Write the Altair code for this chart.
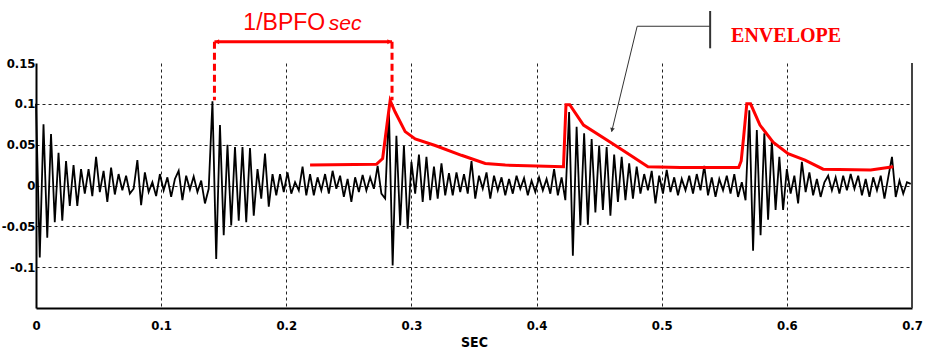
import altair as alt
import numpy as np
import pandas as pd

# ---------------- data ----------------
DT = 0.003  # sample spacing of the typed signal (s)

sig_v = [
    # burst at t=0 and decay
    0.100, -0.088, 0.075, -0.064, 0.063, -0.045, 0.040, -0.043, 0.030, -0.025,
    0.025, -0.025, 0.020, -0.010, 0.020, -0.013, 0.035, -0.008, 0.018, -0.020,
    0.022, -0.011, 0.014, -0.006, 0.012, -0.010, -0.004, 0.031,
    # noise
    -0.024, 0.016, -0.008, 0.004, -0.013, 0.014, -0.006, 0.010, -0.014, 0.008,
    0.018, -0.018, 0.012, -0.005, 0.011, -0.008, 0.006, -0.022, -0.004,
    # burst near 0.141
    0.103, -0.090, 0.074, -0.061, 0.050, -0.049, 0.047, -0.043, 0.047, -0.045,
    0.046, -0.037, 0.020, -0.016, 0.039, -0.026, 0.014, -0.012, 0.014, -0.008,
    0.016, -0.010, 0.004, -0.006, 0.023, -0.012, 0.014, -0.012, 0.010, -0.006,
    0.014, -0.010, 0.018, -0.004, 0.012, -0.014, 0.008, -0.020, 0.010, -0.008,
    0.013, -0.006, 0.010, -0.004, 0.024, -0.010, -0.016,
    # burst near 0.283
    0.092, -0.098, 0.061, -0.049, 0.049, -0.053, 0.029, -0.010, 0.038, -0.020,
    0.035, -0.018, 0.023, -0.016, 0.027, -0.012, 0.015, -0.012, 0.016, -0.008,
    0.014, -0.010, 0.030, -0.016, 0.012, -0.004, 0.016, -0.016, 0.012, -0.006,
    0.010, -0.012, 0.008, -0.010, 0.012, -0.004, 0.009, -0.012, 0.006, -0.008,
    0.010, -0.006, 0.008, -0.010, 0.020, -0.012, 0.010, -0.018,
    # burst near 0.425
    0.090, -0.086, 0.072, -0.049, 0.064, -0.048, 0.057, -0.033, 0.049, -0.030,
    0.047, -0.037, 0.038, -0.020, 0.035, -0.018, 0.027, -0.016, 0.023, -0.010,
    0.014, -0.006, 0.018, -0.022, 0.012, -0.010, 0.019, -0.008, 0.010, -0.012,
    0.008, -0.006, 0.012, -0.010, 0.014, -0.006, 0.024, -0.012, 0.010, -0.014,
    0.008, -0.006, 0.012, -0.010, 0.014, -0.014, 0.004, -0.018,
    # burst near 0.567
    0.092, -0.080, 0.068, -0.061, 0.064, -0.042, 0.055, -0.030, 0.035, -0.030,
    0.020, -0.010, 0.012, -0.022, 0.029, -0.008, 0.016, -0.012, 0.008, -0.014,
    0.004, 0.012, -0.006, 0.010, -0.010, 0.012, -0.006, 0.014, -0.004, 0.012,
    -0.012, 0.008, -0.014, 0.010, -0.006, 0.012, -0.016, 0.010, 0.035, -0.014,
    0.006, -0.010, 0.004, 0.002,
]

env_t = [0.219, 0.272, 0.277, 0.2805, 0.283, 0.287, 0.295, 0.303, 0.319, 0.340,
         0.359, 0.375, 0.400, 0.4215, 0.4235, 0.4265, 0.4375, 0.459, 0.475, 0.489,
         0.515, 0.5615, 0.5635, 0.5655, 0.568, 0.571, 0.5785, 0.589, 0.601, 0.6145,
         0.629, 0.667, 0.685]
env_v = [0.025, 0.026, 0.033, 0.075, 0.104, 0.090, 0.066, 0.057, 0.049, 0.037,
         0.027, 0.025, 0.024, 0.023, 0.099, 0.099, 0.074, 0.053, 0.037, 0.023,
         0.022, 0.022, 0.030, 0.060, 0.100, 0.100, 0.074, 0.053, 0.039, 0.031,
         0.020, 0.019, 0.023]

x_ticks = [0, 0.1, 0.2, 0.3, 0.4, 0.5, 0.6, 0.7]
y_ticks = [-0.1, -0.05, 0, 0.05, 0.1, 0.15]
bracket_label = "1/BPFO"
bracket_unit = "sec"
envelope_label = "ENVELOPE"
x_title = "SEC"

# ---------------- tables ----------------
sig = pd.DataFrame({"t": np.round(np.arange(len(sig_v)) * DT, 4), "v": sig_v})
env = pd.DataFrame({"t": env_t, "v": env_v})
one = pd.DataFrame({"a": [0]})

XDOM = [0, 0.7]
YDOM = [-0.15, 0.15]
FONT = "DejaVu Sans Condensed, Liberation Sans, sans-serif"

xscale = alt.Scale(domain=XDOM, nice=False, zero=False)
yscale = alt.Scale(domain=YDOM, nice=False, zero=False)

x_axis = alt.Axis(
    values=x_ticks, title=x_title, ticks=False, labelPadding=11,
    labelExpr="format(datum.value, '.1~f')",
    labelFont=FONT, labelFontSize=13, labelFontWeight="bold", labelColor="black",
    titleFont=FONT, titleFontSize=14, titleFontWeight="bold", titleColor="black",
    titlePadding=3, labelFlush=False,
    domainColor="black", domainWidth=2,
    grid=True, gridColor="#222", gridDash=[3, 3], gridWidth=1,
    gridOpacity={"condition": {"test": "datum.value < 0.01 || datum.value > 0.69", "value": 0}, "value": 1},
)
y_axis = alt.Axis(
    values=y_ticks, title=None, ticks=False, labelPadding=1,
    labelExpr="replace(format(datum.value, '.2~f'), '\u2212', '-')",
    labelFont=FONT, labelFontSize=13, labelFontWeight="bold", labelColor="black",
    domainColor="black", domainWidth=2,
    grid=True, gridColor="#222", gridDash=[3, 3], gridWidth=1,
    gridOpacity={"condition": {"test": "datum.value > 0.12", "value": 0}, "value": 1},
)

signal = alt.Chart(sig).mark_line(color="black", strokeWidth=1.8).encode(
    x=alt.X("t:Q", scale=xscale, axis=x_axis),
    y=alt.Y("v:Q", scale=yscale, axis=y_axis),
)

envelope = alt.Chart(env).mark_line(color="#ff0000", strokeWidth=3).encode(
    x="t:Q", y="v:Q"
)

right_border = alt.Chart(one).mark_rule(color="#444", strokeWidth=2).encode(
    x=alt.datum(0.7), y=alt.datum(-0.15), y2=alt.datum(0.15)
)

# bracket "1/BPFO sec"
b_left, b_right, b_top, b_bot = 0.1426, 0.2845, 0.1761, 0.1045
bracket_h = alt.Chart(one).mark_rule(color="#ff0000", strokeWidth=3).encode(
    x=alt.datum(b_left), x2=alt.datum(b_right), y=alt.datum(b_top)
)
bracket_l = alt.Chart(one).mark_rule(color="#ff0000", strokeWidth=3, strokeDash=[7, 4]).encode(
    x=alt.datum(b_left), y=alt.datum(b_top), y2=alt.datum(b_bot)
)
bracket_r = alt.Chart(one).mark_rule(color="#ff0000", strokeWidth=3, strokeDash=[7, 4]).encode(
    x=alt.datum(b_right), y=alt.datum(b_top), y2=alt.datum(b_bot)
)
head_l = alt.Chart(one).mark_point(shape="triangle-left", filled=True, color="#ff0000", size=25, opacity=1).encode(
    x=alt.datum(b_left + 0.002), y=alt.datum(b_top)
)
head_r = alt.Chart(one).mark_point(shape="triangle-right", filled=True, color="#ff0000", size=25, opacity=1).encode(
    x=alt.datum(b_right - 0.002), y=alt.datum(b_top)
)
txt_b1 = alt.Chart(one).mark_text(
    text=bracket_label, color="#ff0000", font="Liberation Sans", fontSize=23, align="left", baseline="alphabetic"
).encode(x=alt.datum(0.1657), y=alt.datum(0.190))
txt_b2 = alt.Chart(one).mark_text(
    text=bracket_unit, color="#ff0000", font="Liberation Sans", fontSize=21, fontStyle="italic", align="left", baseline="alphabetic"
).encode(x=alt.datum(0.2340), y=alt.datum(0.190))

# ENVELOPE callout
txt_env = alt.Chart(one).mark_text(
    text=envelope_label, color="#ff0000", font="Liberation Serif", fontSize=20, fontWeight="bold",
    align="center", baseline="alphabetic"
).encode(x=alt.datum(0.5994), y=alt.datum(0.1752))
callout_df = pd.DataFrame({"t": [0.5387, 0.4804, 0.4600], "v": [0.195, 0.195, 0.066], "o": [0, 1, 2]})
callout = alt.Chart(callout_df).mark_line(color="#333", strokeWidth=1).encode(
    x="t:Q", y="v:Q", order="o:O"
)
callout_bar = alt.Chart(one).mark_rule(color="#333", strokeWidth=2).encode(
    x=alt.datum(0.5387), y=alt.datum(0.168), y2=alt.datum(0.2137)
)
arrow_head = alt.Chart(one).mark_point(shape="triangle-up", filled=True, color="#333", size=22, angle=193.5, opacity=1).encode(
    x=alt.datum(0.4603), y=alt.datum(0.068)
)

chart = alt.layer(
    signal, envelope, right_border,
    bracket_h, bracket_l, bracket_r, head_l, head_r, txt_b1, txt_b2,
    callout, callout_bar, arrow_head, txt_env,
).properties(
    width=876, height=245,
    autosize=alt.AutoSizeParams(type="none"),
    padding={"left": 36, "top": 63, "right": 13, "bottom": 48},
    background="white",
).configure_view(stroke=None)

chart.save("out.html", embed_options={"renderer": "svg", "actions": False})
